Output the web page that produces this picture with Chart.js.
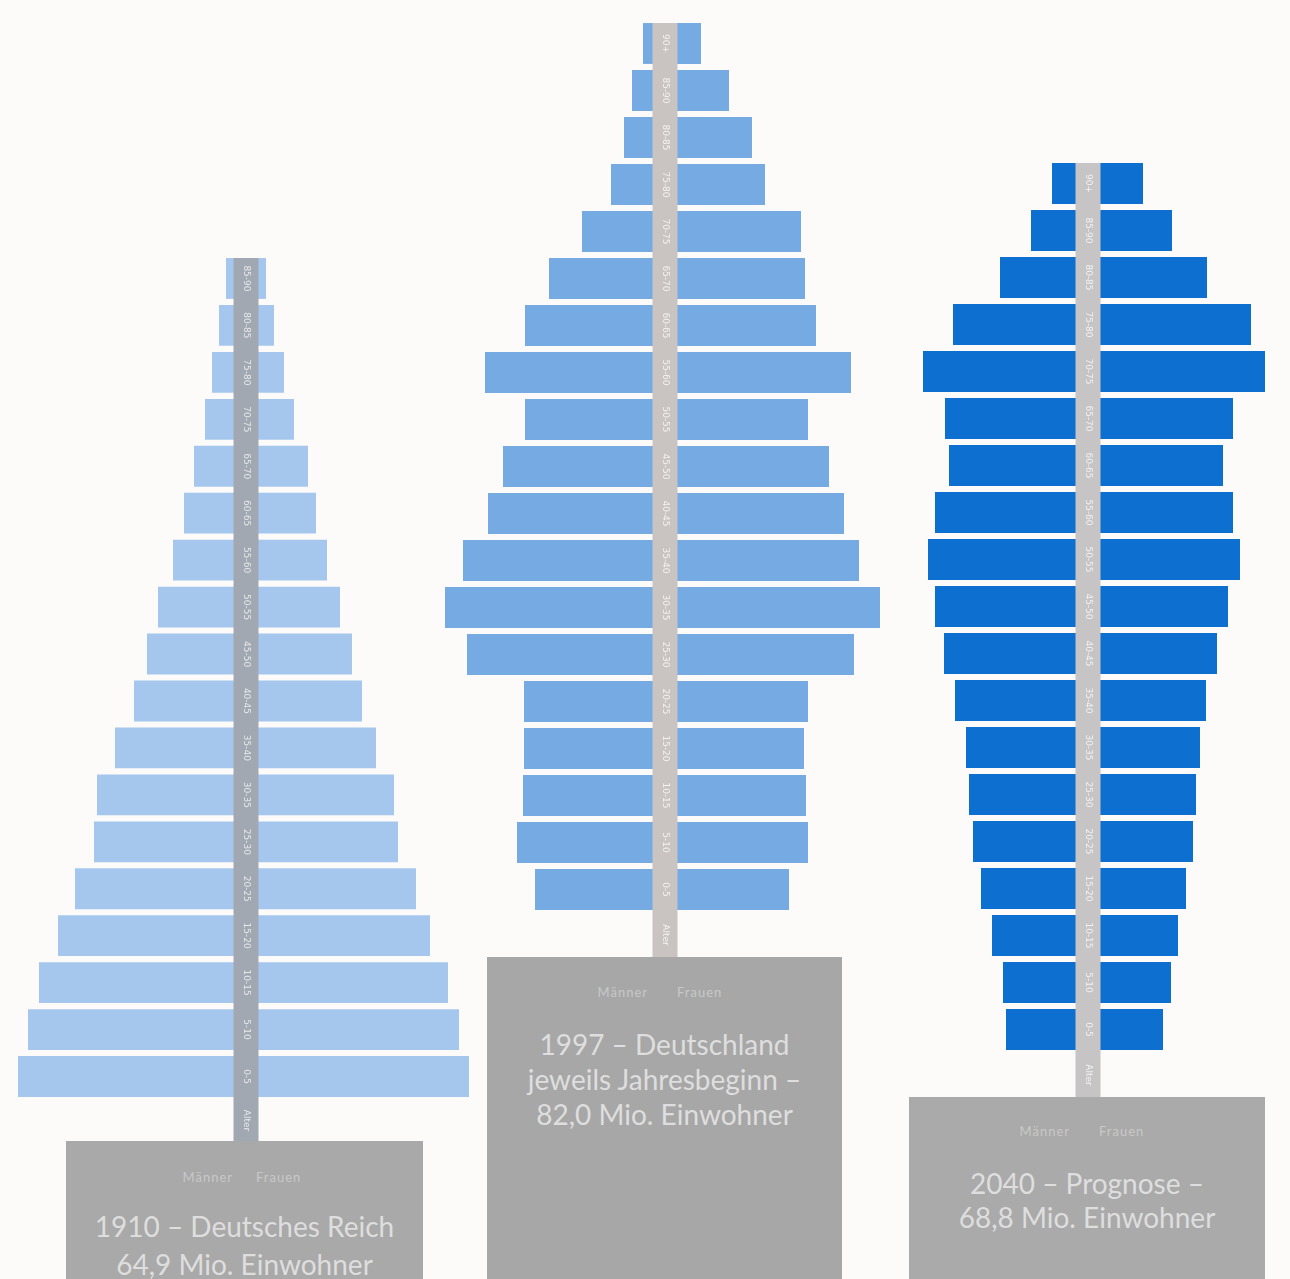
<!DOCTYPE html>
<html lang="de">
<head>
<meta charset="utf-8">
<title>Altersaufbau 1910 - 1997 - 2040</title>
<script src="https://cdn.jsdelivr.net/npm/chart.js@4.4.1/dist/chart.umd.min.js"></script>
<style>
  html, body { margin:0; padding:0; background:#fdfafa; overflow:hidden; }
  #seite { position:relative; width:1290px; height:1279px; overflow:hidden; font-family:Lato, "Open Sans", sans-serif; }
  .diagramm { position:absolute; width:500px; }
  .kasten { position:absolute; color:#dedede; text-align:center; }
  .mf { position:absolute; font-size:13px; line-height:16px; letter-spacing:1px; color:#c8c8c8; white-space:nowrap; }
  .titel { position:absolute; left:0; right:0; font-size:28px; white-space:nowrap; }
</style>
</head>
<body>
<div id="seite">
  <div class="diagramm" id="d1910" style="left:-4.5px; top:255px; height:886px;"><canvas id="c1910"></canvas></div>
  <div class="diagramm" id="d1997" style="left:415px; top:20px; height:937px;"><canvas id="c1997"></canvas></div>
  <div class="diagramm" id="d2040" style="left:837.5px; top:160px; height:937px;"><canvas id="c2040"></canvas></div>

  <div class="kasten" style="left:66px; top:1141px; width:357px; height:138px; background:#a9a9a9;">
    <span class="mf" style="right:190px; top:28px;">Männer</span>
    <span class="mf" style="left:190px; top:28px;">Frauen</span>
    <div class="titel" style="top:66px; line-height:38px;">1910 – Deutsches Reich<br>64,9 Mio. Einwohner</div>
  </div>
  <div class="kasten" style="left:487px; top:957px; width:355px; height:322px; background:#a7a7a7;">
    <span class="mf" style="right:194px; top:27px;">Männer</span>
    <span class="mf" style="left:190px; top:27px;">Frauen</span>
    <div class="titel" style="top:70px; line-height:35px;">1997 – Deutschland<br>jeweils Jahresbeginn –<br>82,0 Mio. Einwohner</div>
  </div>
  <div class="kasten" style="left:909px; top:1097px; width:356px; height:182px; background:#aaaaaa;">
    <span class="mf" style="right:195px; top:26px;">Männer</span>
    <span class="mf" style="left:190px; top:26px;">Frauen</span>
    <div class="titel" style="top:69px; line-height:34px;">2040 – Prognose –<br>68,8 Mio. Einwohner</div>
  </div>
</div>

<script>
// Altersgruppen, von oben (alt) nach unten (jung)
const alter1910 = ['85-90','80-85','75-80','70-75','65-70','60-65','55-60','50-55','45-50','40-45','35-40','30-35','25-30','20-25','15-20','10-15','5-10','0-5']
const alter = ['90+','85-90','80-85','75-80','70-75','65-70','60-65','55-60','50-55','45-50','40-45','35-40','30-35','25-30','20-25','15-20','10-15','5-10','0-5']

// Werte in Tausend
const maenner1910 = [320,432,544,656,832,992,1168,1408,1584,1792,2096,2384,2432,2736,3008,3312,3488,3648]
const frauen1910  = [320,448,608,768,992,1120,1296,1504,1696,1856,2080,2368,2432,2720,2944,3232,3408,3568]

const maenner1997 = [352,528,656,864,1328,1856,2240,2880,2240,2592,2832,3232,3520,3168,2256,2256,2272,2368,2080]
const frauen1997  = [576,1024,1392,1600,2176,2240,2416,2976,2288,2624,2864,3104,3440,3024,2288,2224,2256,2288,1984]

const maenner2040 = [576,912,1408,2160,2640,2288,2224,2448,2560,2448,2304,2128,1952,1904,1840,1712,1536,1360,1312]
const frauen2040  = [880,1344,1904,2608,2832,2320,2160,2320,2432,2240,2064,1888,1792,1728,1680,1568,1440,1328,1200]

const grenze = 4000 // Tausend je Seite

// Mittelsaeule mit Altersangaben
const stamm = {
    id: 'stamm',
    afterDatasetsDraw(chart, args, opts) {
        const {ctx, chartArea, scales: {x, y}} = chart
        const cx = x.getPixelForValue(0)
        const oben = chartArea.top + 3
        ctx.save()
        ctx.fillStyle = opts.farbe
        ctx.fillRect(cx - 12.5, oben, 25, chart.height - oben)

        ctx.fillStyle = opts.schrift
        ctx.font = '9px "DejaVu Sans"'
        ctx.textAlign = 'center'
        ctx.textBaseline = 'middle'
        chart.data.labels.forEach((lab, i) => {
            ctx.save()
            ctx.translate(cx, y.getPixelForValue(i))
            ctx.rotate(Math.PI / 2)
            ctx.fillText(lab, 0, 0)
            ctx.restore()
        })
        ctx.save()
        ctx.translate(cx, (chartArea.bottom + chart.height) / 2)
        ctx.rotate(Math.PI / 2)
        ctx.fillText('Alter', 0, 0)
        ctx.restore()
        ctx.restore()
    }
}

function graficoPiramide(id, labels, maenner, frauen, farbe, stammFarbe, schrift, unten) {
    const ctx = document.getElementById(id).getContext('2d')

    const data = {
        labels: labels,
        datasets: [
            { label: 'Männer', data: maenner.map(v => -v), backgroundColor: farbe },
            { label: 'Frauen', data: frauen, backgroundColor: farbe }
        ]
    }

    const options = {
        indexAxis: 'y',
        responsive: true,
        maintainAspectRatio: false,
        animation: false,
        layout: { padding: { top: 0, right: 0, bottom: unten, left: 0 } },
        datasets: { bar: { categoryPercentage: 1, barPercentage: 0.87, borderWidth: 0 } },
        scales: {
            x: { stacked: true, min: -grenze, max: grenze, display: false },
            y: { stacked: true, display: false }
        },
        plugins: {
            legend: { display: false },
            tooltip: { enabled: false },
            stamm: { farbe: stammFarbe, schrift: schrift }
        }
    }

    return new Chart(ctx, { type: 'bar', data, options, plugins: [stamm] })
}

graficoPiramide('c1910', alter1910, maenner1910, frauen1910, '#a5c7ee', '#a2a8b2', 'rgba(255,255,255,0.75)', 41)
graficoPiramide('c1997', alter, maenner1997, frauen1997, '#76aae3', '#c9c3c1', 'rgba(255,255,255,0.8)', 44)
graficoPiramide('c2040', alter, maenner2040, frauen2040, '#0d6fd0', '#c6c4c4', 'rgba(255,255,255,0.8)', 44)
</script>
</body>
</html>
